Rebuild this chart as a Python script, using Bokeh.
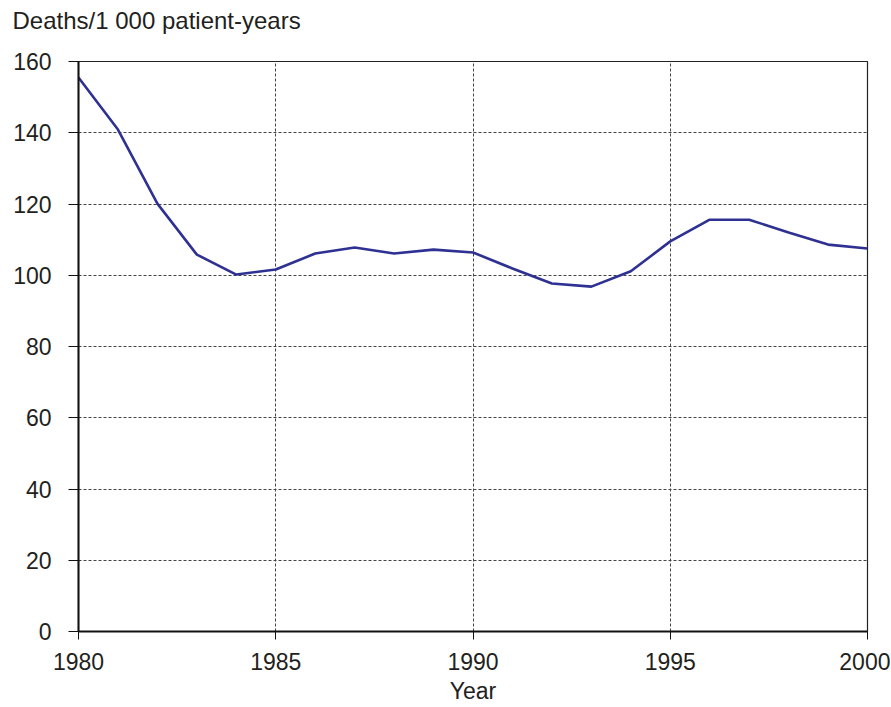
from bokeh.plotting import figure
from bokeh.models import Range1d, FixedTicker, Title
from bokeh.embed import file_html
from bokeh.resources import INLINE

years = list(range(1980, 2001))
deaths = [155.5, 140.9, 120.1, 105.8, 100.2, 101.6, 106.1, 107.8, 106.1, 107.2,
          106.4, 101.9, 97.7, 96.8, 101.1, 109.5, 115.6, 115.6, 112.0, 108.6, 107.5]
x_ticks = [1980, 1985, 1990, 1995, 2000]
y_ticks = [0, 20, 40, 60, 80, 100, 120, 140, 160]

FONT = "Liberation Sans"
TXT = "#231f20"

W, H = 890, 706
LEFT, RIGHT, TOP, BOTTOM = 78, 23, 61, 75

p = figure(width=W, height=H, output_backend="svg", toolbar_location=None,
           x_range=Range1d(1980, 2000), y_range=Range1d(0, 160),
           min_border_left=LEFT, min_border_right=RIGHT, min_border_top=TOP,
           min_border_bottom=BOTTOM)

p.line(years, deaths, line_color="#2e3192", line_width=2.6)

# spacer between frame and title, then the title itself (stacked outward)
spacer = Title(text=" ", text_font_size="4px", standoff=21)
p.add_layout(spacer, "above")
title = Title(text="Deaths/1 000 patient-years", align="left", offset=-66,
              text_font=FONT, text_font_size="24px", text_font_style="normal",
              text_color=TXT, standoff=0)
p.add_layout(title, "above")

p.outline_line_color = "#222222"
p.outline_line_width = 1.2
p.background_fill_color = "white"
p.border_fill_color = "white"

for ax in (p.xaxis[0], p.yaxis[0]):
    ax.axis_line_color = "#111111"
    ax.axis_line_width = 2
    ax.major_tick_line_color = "#111111"
    ax.major_tick_line_width = 1
    ax.major_tick_in = 0
    ax.minor_tick_line_color = None
    ax.major_label_text_font = FONT
    ax.major_label_text_font_size = "23px"
    ax.major_label_text_color = TXT

p.xaxis.ticker = FixedTicker(ticks=x_ticks)
p.yaxis.ticker = FixedTicker(ticks=y_ticks)
p.xaxis.major_tick_out = 8
p.yaxis.major_tick_out = 10
p.xaxis.major_label_standoff = 13
p.yaxis.major_label_standoff = 17
p.xaxis.axis_label = "Year"
p.xaxis.axis_label_text_font = FONT
p.xaxis.axis_label_text_font_size = "23px"
p.xaxis.axis_label_text_font_style = "normal"
p.xaxis.axis_label_text_color = TXT
p.xaxis.axis_label_standoff = 5

p.xgrid.ticker = FixedTicker(ticks=[1985, 1990, 1995])
p.ygrid.ticker = FixedTicker(ticks=[20, 40, 60, 80, 100, 120, 140])
for g in (p.xgrid[0], p.ygrid[0]):
    g.grid_line_color = "#444444"
    g.grid_line_width = 1
    g.grid_line_dash = "3 2"

open("out.html", "w").write(file_html(p, INLINE))
